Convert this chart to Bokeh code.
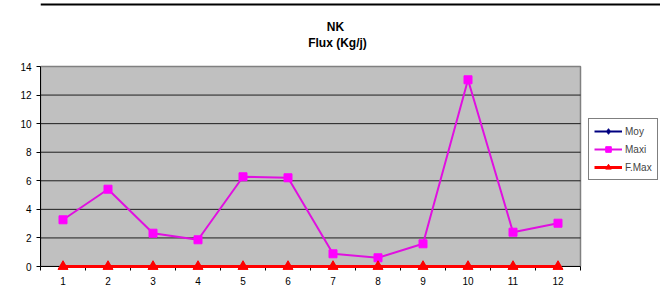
from bokeh.plotting import figure
from bokeh.models import Range1d, FixedTicker, Legend, LegendItem, Label, Span
from bokeh.embed import file_html
from bokeh.resources import INLINE

# ---- data ----
months = [1, 2, 3, 4, 5, 6, 7, 8, 9, 10, 11, 12]
moy = [0, 0, 0, 0, 0, 0, 0, 0, 0, 0, 0, 0]
maxi = [3.27, 5.41, 2.33, 1.87, 6.28, 6.21, 0.89, 0.61, 1.59, 13.07, 2.40, 3.03]
fmax = [0, 0, 0, 0, 0, 0, 0, 0, 0, 0, 0, 0]
y_ticks = [0, 2, 4, 6, 8, 10, 12, 14]
title1 = "NK"
title2 = "Flux (Kg/j)"

FONT = "Liberation Sans"

# layout (pixels)
W, H = 660, 298
FL, FB = 40, 32            # frame left / bottom border
FT, FR = 2, 0              # frame top / right border
PLOT_W, PLOT_H = 540, 200  # size of the grey plotting area
x0, x1 = 0.5, 12.5
y0, y1 = 0.0, 14.0
frame_w = W - FL - FR
frame_h = H - FT - FB
x_end = x0 + (x1 - x0) * frame_w / PLOT_W
y_end = y0 + (y1 - y0) * frame_h / PLOT_H
px_y = (y1 - y0) / PLOT_H

p = figure(width=W, height=H, output_backend="svg", toolbar_location=None,
           x_range=Range1d(x0, x_end), y_range=Range1d(y0, y_end),
           min_border_left=FL, min_border_right=FR, min_border_top=FT, min_border_bottom=FB)
p.title.visible = False
p.background_fill_color = "white"
p.border_fill_color = "white"
p.outline_line_color = None

# chart-area border (top edge)
p.add_layout(Span(location=y_end - 2 * px_y, dimension="width",
                  line_color="black", line_width=2))

# grey plot area
p.quad(left=[x0], right=[x1], bottom=[y0], top=[y1],
       fill_color="#C0C0C0", line_color="#808080", line_width=1.5)
# horizontal gridlines
grid_y = y_ticks[1:-1]
p.segment(x0=[x0] * len(grid_y), x1=[x1] * len(grid_y), y0=grid_y, y1=grid_y,
          line_color="black", line_width=1, line_alpha=0.85)

# axes
p.xaxis.bounds = (x0, x1)
p.xaxis.ticker = FixedTicker(ticks=months, minor_ticks=[m + 0.5 for m in [0] + months])
p.xaxis.major_tick_line_color = None
p.xaxis.minor_tick_out = 4
p.xaxis.minor_tick_in = 0
p.xaxis.minor_tick_line_color = "black"
p.xaxis.axis_line_color = "black"
p.xaxis.major_label_text_font = FONT
p.xaxis.major_label_text_font_size = "10px"
p.xaxis.major_label_text_color = "black"
p.xaxis.major_label_standoff = 4

p.yaxis.bounds = (y0, y1)
p.yaxis.ticker = FixedTicker(ticks=y_ticks)
p.yaxis.major_tick_out = 4
p.yaxis.major_tick_in = 0
p.yaxis.minor_tick_line_color = None
p.yaxis.axis_line_color = "black"
p.yaxis.major_label_text_font = FONT
p.yaxis.major_label_text_font_size = "10px"
p.yaxis.major_label_text_color = "black"
p.yaxis.major_label_standoff = 5

p.xgrid.grid_line_color = None
p.ygrid.grid_line_color = None

# series
l_moy = p.line(months, moy, line_color="#000080", line_width=2)
s_moy = p.scatter(months, moy, marker="diamond", size=8, color="#000080")
l_max = p.line(months, maxi, line_color="#E010E0", line_width=2)
s_max = p.scatter(months, maxi, marker="square", size=8, color="#FF00FF")
l_fm = p.line(months, fmax, line_color="#FF0000", line_width=3, level="overlay")
s_fm = p.scatter(months, fmax, marker="triangle", size=10, color="#FF0000", level="overlay")

legend = Legend(items=[LegendItem(label="Moy", renderers=[l_moy, s_moy]),
                       LegendItem(label="Maxi", renderers=[l_max, s_max]),
                       LegendItem(label="F.Max", renderers=[l_fm, s_fm])],
                location=(548, 86), orientation="vertical")
legend.label_text_font = FONT
legend.label_text_font_size = "10px"
legend.label_height = 14
legend.glyph_height = 14
legend.glyph_width = 28
legend.spacing = 4
legend.padding = 5
legend.margin = 0
legend.border_line_color = "black"
legend.border_line_width = 1
legend.background_fill_color = "white"
legend.label_standoff = 3
p.add_layout(legend, "center")

# titles (screen units, relative to the frame's bottom-left corner)
p.add_layout(Label(x=335 - FL, y=(H - FB) - 26, x_units="screen", y_units="screen",
                   text=title1, text_font=FONT, text_font_size="12px",
                   text_font_style="bold", text_color="black",
                   text_align="center", text_baseline="middle"))
p.add_layout(Label(x=337 - FL, y=(H - FB) - 42, x_units="screen", y_units="screen",
                   text=title2, text_font=FONT, text_font_size="12px",
                   text_font_style="bold", text_color="black",
                   text_align="center", text_baseline="middle"))

open("out.html", "w").write(file_html(p, INLINE))
